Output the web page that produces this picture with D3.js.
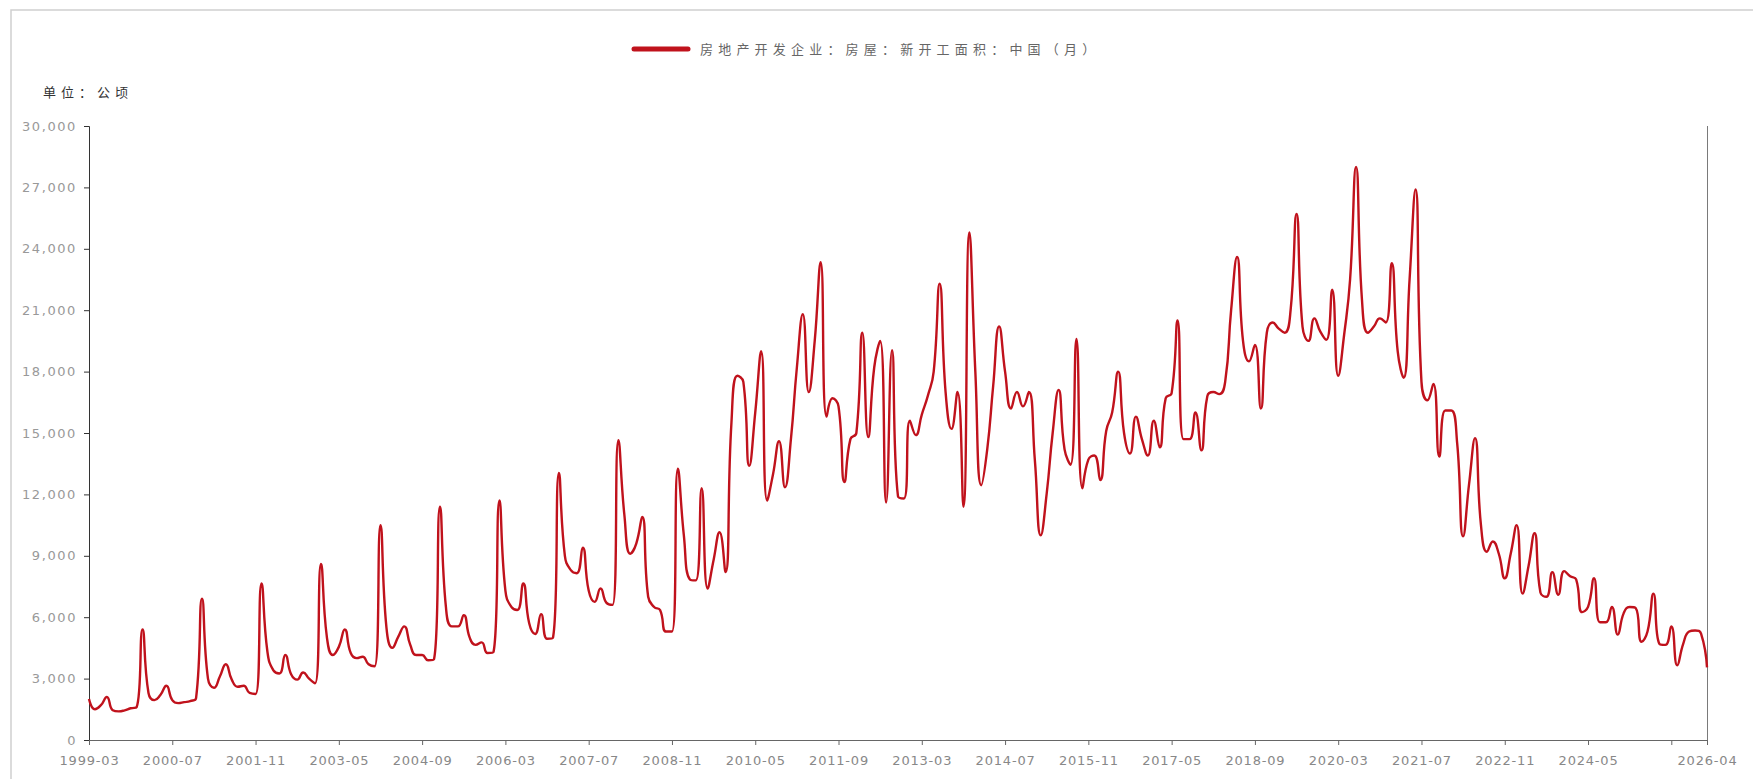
<!DOCTYPE html>
<html>
<head>
<meta charset="utf-8">
<script src="https://cdn.jsdelivr.net/npm/d3@7/dist/d3.min.js"></script>
<style>
  html, body { margin: 0; padding: 0; background: #fff; }
  svg { display: block; }
</style>
</head>
<body>
<svg id="chart" width="1753" height="779"></svg>
<script>
// ---------------- DATA ----------------
const seriesName = "房地产开发企业：房屋：新开工面积：中国（月）";
const unitLabel = "单位：公顷";
const years = d3.range(1999, 2026);          // each year Mar..Dec
const monthsPerYear = ["03","04","05","06","07","08","09","10","11","12"];
const tailCategories = ["2026-02", "2026-03", "2026-04"];

const values1999_2008 = [
  2000,1500,1700,2100,1450,1400,1450,1550,1600,5400,
  2300,1950,2200,2650,1950,1800,1850,1900,2050,6900,
  3000,2550,3100,3700,2950,2600,2650,2300,2250,7650,
  4300,3400,3250,4150,3200,2950,3300,3000,2770,8600,
  5000,4150,4550,5400,4250,4000,4070,3700,3600,10500,
  5500,4500,5050,5550,4650,4150,4150,3900,3950,11400,
  6500,5550,5550,6100,5000,4650,4770,4250,4300,11700,
  7300,6500,6350,7650,5700,5180,6150,4950,5000,13050,
  9000,8300,8150,9400,7300,6750,7400,6700,6600,14650,
  11000,9100,9600,10900,7000,6500,6350,5300,5300,13250
];
const values2009_2018 = [
  10000,7850,7800,12300,7400,8800,10150,8200,15500,17800,
  17500,13400,16000,19000,11700,13000,14600,12350,14700,18200,
  20800,17000,19500,23350,15800,16700,16300,12600,14700,15000,
  19900,14800,18200,19500,11600,19050,11900,11800,15600,14900,
  15900,16800,18000,22300,17000,15200,17000,11400,24800,18000,
  12450,14200,17300,20200,18000,16200,17000,16300,17000,13700,
  10000,12050,15000,17100,14200,13450,19600,12300,13700,13900,
  12700,15100,16000,18000,15000,14000,15800,14700,13900,15600,
  14300,16700,16950,20500,14700,14700,16000,14150,16800,17000,
  16900,17500,21000,23600,19500,18500,19300,16200,19900,20400
];
const values2019_2026 = [
  20100,19900,21000,25700,20200,19500,20600,19950,19550,22000,
  17800,19800,22500,28000,21500,19900,20200,20600,20400,23300,
  19000,17700,22500,26900,17500,16600,17400,13850,16100,16100,
  14500,9950,12500,14750,10500,9200,9700,9100,7900,9100,
  10500,7150,8500,10100,7200,7000,8200,7100,8250,8000,
  7850,6250,6500,7900,5750,5750,6500,5150,6200,6500,
  6450,4800,5300,7150,4700,4650,5550,3650,4700,5300,
  5350,5200,3550
];
const yTicks = [0,3000,6000,9000,12000,15000,18000,21000,24000,27000,30000];
const xTickStep = 14;

// ---------------- BUILD ----------------
const categories = [];
years.forEach(yy => monthsPerYear.forEach(m => categories.push(yy + "-" + m)));
tailCategories.forEach(c => categories.push(c));
const values = values1999_2008.concat(values2009_2018, values2019_2026);
const data = categories.map((c, i) => ({ c, v: values[i] }));

const svg = d3.select("#chart");
const W = 1753, H = 779;
const pLeft = 89, pRight = 1707, pTop = 126, pBottom = 740;
const red = "#c0121c";

// frame
svg.append("rect").attr("x", 11).attr("y", 10).attr("width", W + 20).attr("height", H + 20)
  .attr("fill", "none").attr("stroke", "#cfcfcf").attr("stroke-width", 1.5);

const x = d3.scalePoint().domain(categories).range([pLeft, pRight]).padding(0);
const y = d3.scaleLinear().domain([0, 30000]).range([pBottom, pTop]);

// ECharts-like smoothing curve (smooth = 0.5, with clamping)
function EcSmooth(context) { this._context = context; this._s = 0.5; }
EcSmooth.prototype = {
  areaStart() {}, areaEnd() {},
  lineStart() { this._px = []; this._py = []; },
  point(px, py) { this._px.push(+px); this._py.push(+py); },
  lineEnd() {
    const P = this._px, Q = this._py, n = P.length, ctx = this._context, s = this._s;
    if (!n) return;
    ctx.moveTo(P[0], Q[0]);
    let cpx0 = P[0], cpy0 = Q[0];
    let prevX = P[0], prevY = Q[0];
    for (let i = 1; i < n; i++) {
      const X = P[i], Y = Q[i];
      let cpx1, cpy1, ncx = X, ncy = Y;
      if (i === n - 1) {
        cpx1 = X; cpy1 = Y;
      } else {
        const nX = P[i + 1], nY = Q[i + 1];
        let vx = nX - prevX, vy = nY - prevY;
        const dx0 = X - prevX, dy0 = Y - prevY, dx1 = nX - X, dy1 = nY - Y;
        const l0 = Math.sqrt(dx0 * dx0 + dy0 * dy0);
        const l1 = Math.sqrt(dx1 * dx1 + dy1 * dy1);
        const r = l1 / (l0 + l1);
        ncx = X + vx * s * r; ncy = Y + vy * s * r;
        ncx = Math.min(ncx, Math.max(nX, X)); ncy = Math.min(ncy, Math.max(nY, Y));
        ncx = Math.max(ncx, Math.min(nX, X)); ncy = Math.max(ncy, Math.min(nY, Y));
        vx = ncx - X; vy = ncy - Y;
        cpx1 = X - vx * l0 / l1; cpy1 = Y - vy * l0 / l1;
        cpx1 = Math.min(cpx1, Math.max(prevX, X)); cpy1 = Math.min(cpy1, Math.max(prevY, Y));
        cpx1 = Math.max(cpx1, Math.min(prevX, X)); cpy1 = Math.max(cpy1, Math.min(prevY, Y));
        vx = X - cpx1; vy = Y - cpy1;
        ncx = X + vx * l1 / l0; ncy = Y + vy * l1 / l0;
      }
      ctx.bezierCurveTo(cpx0, cpy0, cpx1, cpy1, X, Y);
      cpx0 = ncx; cpy0 = ncy;
      prevX = X; prevY = Y;
    }
  }
};
const curveEc = ctx => new EcSmooth(ctx);

// right border line
svg.append("line").attr("x1", pRight + 0.5).attr("x2", pRight + 0.5).attr("y1", pTop).attr("y2", pBottom)
  .attr("stroke", "#7a7a7a").attr("stroke-width", 1);

// Y axis
const yAxis = svg.append("g").attr("transform", `translate(${pLeft},0)`)
  .call(d3.axisLeft(y).tickValues(yTicks).tickSize(5).tickPadding(7).tickFormat(d3.format(",")));
yAxis.select(".domain").attr("stroke", "#333");
yAxis.selectAll(".tick line").attr("stroke", "#333");
yAxis.selectAll(".tick text").attr("fill", "#999").style("font-family", "DejaVu Sans")
  .style("font-size", "13px").style("letter-spacing", "1.6px");

// X axis
const tickIdx = d3.range(0, categories.length, xTickStep);
if (tickIdx[tickIdx.length - 1] !== categories.length - 1) tickIdx.push(categories.length - 1);
const hideLabel = new Set([266]);
const xAxis = svg.append("g").attr("transform", `translate(0,${pBottom})`)
  .call(d3.axisBottom(x).tickValues(tickIdx.map(i => categories[i])).tickSize(5).tickPadding(11)
    .tickFormat((d) => hideLabel.has(categories.indexOf(d)) ? "" : d));
xAxis.select(".domain").attr("stroke", "#666");
xAxis.selectAll(".tick line").attr("stroke", "#666");
xAxis.selectAll(".tick text").attr("fill", "#888").style("font-family", "DejaVu Sans")
  .style("font-size", "13px").style("letter-spacing", "0.8px");

// line
const line = d3.line().x(d => x(d.c)).y(d => y(d.v)).curve(curveEc);
svg.append("path").datum(data).attr("d", line).attr("fill", "none")
  .attr("stroke", red).attr("stroke-width", 2.4).attr("stroke-linejoin", "round");

// legend
svg.append("line").attr("x1", 634).attr("x2", 688).attr("y1", 49).attr("y2", 49)
  .attr("stroke", red).attr("stroke-width", 5).attr("stroke-linecap", "round");
svg.append("text").attr("x", 700).attr("y", 54).text(seriesName)
  .attr("fill", "#666").style("font-family", "Noto Sans CJK SC").style("font-size", "13px")
  .style("letter-spacing", "5.2px");

// unit label
svg.append("text").attr("x", 43).attr("y", 97).text(unitLabel)
  .attr("fill", "#333").style("font-family", "Noto Sans CJK SC").style("font-size", "13px")
  .style("letter-spacing", "5px");
</script>
</body>
</html>
